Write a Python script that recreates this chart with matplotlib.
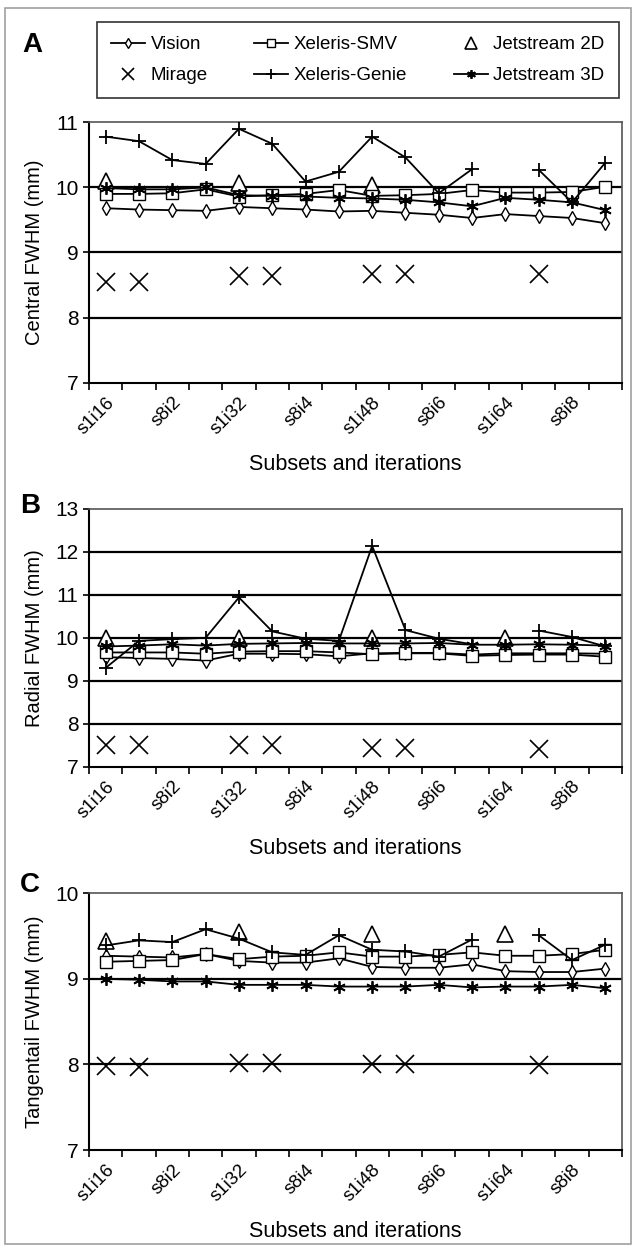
import numpy as np
import matplotlib as mpl
import matplotlib.pyplot as plt
from matplotlib.patches import Rectangle

# categories (subsets / iterations); only every other one is labelled
categories = ["s1i16", "s2i8", "s8i2", "s16i1", "s1i32", "s2i16", "s8i4", "s16i2",
              "s1i48", "s2i24", "s8i6", "s16i3", "s1i64", "s2i32", "s8i8", "s16i4"]
nan = np.nan

# panel A - central FWHM
vision_a = [9.68, 9.66, 9.65, 9.64, 9.70, 9.68, 9.66, 9.63, 9.64, 9.61, 9.58, 9.53, 9.59, 9.56, 9.53, 9.45]
smv_a = [9.90, 9.90, 9.91, 9.97, 9.86, 9.88, 9.90, 9.96, 9.87, 9.88, 9.90, 9.96, 9.92, 9.92, 9.93, 10.01]
genie_a = [10.78, 10.71, 10.42, 10.36, 10.90, 10.67, 10.09, 10.24, 10.78, 10.46, 9.91, 10.28, nan, 10.27, 9.77, 10.38]
j3d_a = [9.99, 9.97, 9.97, 10.00, 9.88, 9.87, 9.86, 9.84, 9.83, 9.81, 9.77, 9.71, 9.84, 9.81, 9.77, 9.65]
mirage_a = [8.54, 8.54, nan, nan, 8.64, 8.64, nan, nan, 8.67, 8.67, nan, nan, nan, 8.67, nan, nan]
j2d_a = [10.10, nan, nan, nan, 10.06, nan, nan, nan, 10.03, nan, nan, nan, nan, nan, nan, nan]

# panel B - radial FWHM
vision_b = [9.55, 9.53, 9.51, 9.47, 9.63, 9.63, 9.62, 9.57, 9.64, 9.65, 9.65, 9.61, 9.64, 9.64, 9.64, 9.63]
smv_b = [9.66, 9.66, 9.66, 9.63, 9.68, 9.69, 9.69, 9.66, 9.62, 9.64, 9.64, 9.58, 9.60, 9.61, 9.61, 9.56]
genie_b = [9.30, 9.93, 9.97, 10.00, 10.94, 10.15, 9.98, 9.93, 12.14, 10.18, 9.98, 9.85, nan, 10.17, 10.02, 9.80]
j3d_b = [9.80, 9.82, 9.85, 9.82, 9.86, 9.87, 9.88, 9.87, 9.87, 9.87, 9.88, 9.84, 9.84, 9.85, 9.84, 9.82]
mirage_b = [7.50, 7.50, nan, nan, 7.50, 7.50, nan, nan, 7.44, 7.44, nan, nan, nan, 7.41, nan, nan]
j2d_b = [10.00, nan, nan, nan, 10.00, nan, nan, nan, 10.00, nan, nan, nan, 10.00, nan, nan, nan]

# panel C - tangential FWHM
vision_c = [9.27, 9.26, 9.25, 9.29, 9.21, 9.19, 9.19, 9.24, 9.14, 9.13, 9.13, 9.17, 9.09, 9.08, 9.08, 9.12]
smv_c = [9.20, 9.21, 9.22, 9.29, 9.23, 9.26, 9.27, 9.31, 9.26, 9.26, 9.28, 9.31, 9.27, 9.27, 9.29, 9.34]
genie_c = [9.39, 9.45, 9.43, 9.58, 9.47, 9.31, 9.28, 9.51, 9.34, 9.32, 9.26, 9.46, nan, 9.51, 9.22, 9.40]
j3d_c = [9.00, 8.99, 8.97, 8.97, 8.93, 8.93, 8.93, 8.91, 8.91, 8.91, 8.93, 8.90, 8.91, 8.91, 8.93, 8.89]
mirage_c = [7.98, 7.97, nan, nan, 8.02, 8.02, nan, nan, 8.00, 8.00, nan, nan, nan, 7.99, nan, nan]
j2d_c = [9.44, nan, nan, nan, 9.55, nan, nan, nan, 9.53, nan, nan, nan, 9.53, nan, nan, nan]

panels = [
    ("A", "Central FWHM (mm)", (7, 11), vision_a, smv_a, genie_a, j3d_a, mirage_a, j2d_a),
    ("B", "Radial FWHM (mm)", (7, 13), vision_b, smv_b, genie_b, j3d_b, mirage_b, j2d_b),
    ("C", "Tangentail FWHM (mm)", (7, 10), vision_c, smv_c, genie_c, j3d_c, mirage_c, j2d_c),
]

mpl.rcParams.update({
    "font.family": ["Liberation Sans", "DejaVu Sans"],
    "font.size": 13,
})

W, H = 636, 1250
fig = plt.figure(figsize=(W / 100, H / 100), dpi=100)

# outer frame
fig.patches.append(Rectangle((5 / W, 1 - 1244 / H), 626 / W, 1236 / H,
                             transform=fig.transFigure, fill=False,
                             edgecolor="#a0a0a0", linewidth=1.2))

# axes boxes in pixels: (top, bottom)
boxes = [(122.3, 382.7), (509.0, 766.7), (893.3, 1150.0)]
left_px, right_px = 89, 622

x = np.arange(len(categories)) + 0.5
lw = 1.3
handles = None

for (letter, ylabel, ylim, vis, smv, gen, j3d, mir, j2d), (top, bot) in zip(panels, boxes):
    ax = fig.add_axes([left_px / W, 1 - bot / H, (right_px - left_px) / W, (bot - top) / H])
    ax.set_xlim(0, len(categories))
    ax.set_ylim(*ylim)
    ax.set_yticks(np.arange(ylim[0], ylim[1] + 1))
    for yy in np.arange(ylim[0] + 1, ylim[1]):
        ax.axhline(yy, color="black", linewidth=1.6, zorder=1)

    h_vis, = ax.plot(x, vis, color="black", lw=lw, marker="d", ms=7, mfc="white", mew=1.0, zorder=3)
    h_smv, = ax.plot(x, smv, color="black", lw=lw, marker="s", ms=8, mfc="white", mew=1.0, zorder=3)
    h_gen, = ax.plot(x, gen, color="black", lw=lw, marker="+", ms=10, mew=1.3, zorder=4)
    h_j3d, = ax.plot(x, j3d, color="black", lw=lw, marker=(6, 2, 0), ms=9, mew=1.3, zorder=3)
    h_mir, = ax.plot(x, mir, color="black", lw=0, marker="x", ms=13, mew=1.2, zorder=3)
    h_j2d, = ax.plot(x, j2d, color="black", lw=0, marker="^", ms=12, mfc="white", mew=1.2, zorder=2)
    handles = [h_vis, h_mir, h_smv, h_gen, h_j2d, h_j3d]

    # category ticks between categories, labels every other category
    ax.set_xticks(np.arange(0, len(categories) + 1), minor=True)
    ax.set_xticks(x[::2])
    ax.set_xticklabels(categories[::2], rotation=45, ha="right", va="top",
                       rotation_mode="anchor", fontsize=13.5)
    ax.tick_params(axis="x", which="major", length=0, pad=8)
    ax.tick_params(axis="x", which="minor", length=5, width=1.2, direction="out")
    ax.tick_params(axis="y", length=4, width=1.2, direction="out", labelsize=15)

    for side in ("left", "bottom"):
        ax.spines[side].set_linewidth(1.5)
        ax.spines[side].set_color("black")
    for side in ("top", "right"):
        ax.spines[side].set_linewidth(1.2)
        ax.spines[side].set_color("#555555")

    ax.set_ylabel(ylabel, fontsize=14.5, labelpad=8)
    ax.set_xlabel("Subsets and iterations", fontsize=15.5, labelpad=12)

fig.text(22 / W, 1 - 45 / H, "A", fontsize=20, fontweight="bold", va="center", ha="left")
fig.text(20 / W, 1 - 506 / H, "B", fontsize=20, fontweight="bold", va="center", ha="left")
fig.text(20 / W, 1 - 885 / H, "C", fontsize=20, fontweight="bold", va="center", ha="left")

labels = ["Vision", "Mirage", "Xeleris-SMV", "Xeleris-Genie", "Jetstream 2D", "Jetstream 3D"]
leg = fig.legend(handles, labels, ncol=3, loc="upper left",
                 bbox_to_anchor=(97 / W, 1 - 22 / H), frameon=True, fancybox=False,
                 edgecolor="black", fontsize=13.5, handlelength=1.8, handletextpad=0.3,
                 columnspacing=2.5, borderpad=0.75, labelspacing=0.75, markerscale=0.7,
                 borderaxespad=0)
leg.get_frame().set_linewidth(1.2)

fig.savefig("out.png", dpi=100)
